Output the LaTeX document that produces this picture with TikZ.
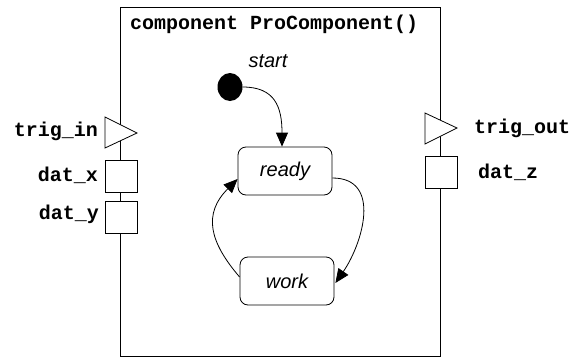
\documentclass[tikz,border=0pt]{standalone}
\usepackage{fontspec}
\setmainfont{Liberation Sans}
\setmonofont{Liberation Mono}
\usetikzlibrary{arrows.meta,calc,shapes.geometric}
\begin{document}
\begin{tikzpicture}[x=1pt,y=-1pt,
  lw/.style={line width=0.8pt},
  port/.style={lw, draw, fill=white, minimum size=32pt, inner sep=0pt},
  portlbl/.style={font=\ttfamily\bfseries\fontsize{20}{24}\selectfont, inner sep=0pt},
  statebox/.style={lw, draw, rounded corners=8pt, minimum width=94pt, minimum height=48pt, inner sep=0pt, font=\itshape\fontsize{20}{24}\selectfont},
  arr/.style={lw, -{Triangle[length=14pt,width=12pt]}}]
\useasboundingbox (0,0) rectangle (573,359);
% component frame
\node[lw, draw, anchor=north west, minimum width=320pt, minimum height=349pt, inner sep=0pt] (comp) at (120,7) {};
\node[portlbl, anchor=west] (title) at (130,24) {component ProComponent()};
% left ports
\draw[lw, fill=white] (105,117) -- (137,133) -- (105,148) -- cycle;
\coordinate (trigin) at (115,133);
\node[portlbl, anchor=east] (triginlbl) at (98,131) {trig\_in};
\node[port] (datx) at (121,176) {};
\node[portlbl, anchor=east] (datxlbl) at (98,175) {dat\_x};
\node[port] (daty) at (121,217) {};
\node[portlbl, anchor=east] (datylbl) at (99,214) {dat\_y};
% right ports
\draw[lw, fill=white] (425,113) -- (457,128) -- (425,144) -- cycle;
\coordinate (trigout) at (435,128);
\node[portlbl, anchor=west] (trigoutlbl) at (474,128) {trig\_out};
\node[port] (datz) at (441,172) {};
\node[portlbl, anchor=west] (datzlbl) at (478,172) {dat\_z};
% states
\node[inner sep=0pt, font=\itshape\fontsize{20}{24}\selectfont] (startlbl) at (268,61) {start};
\node[ellipse, fill=black, minimum width=25pt, minimum height=28pt, inner sep=0pt] (init) at (230,87) {};
\node[statebox] (ready) at (285,171) {ready};
\node[statebox] (work) at (287,281) {work};
% transitions
\draw[arr] (init.east) .. controls +(32,0) and +(0,-40) .. ($(ready.north)+(-3,0)$);
\draw[arr] ($(ready.east)+(0,7)$) .. controls +(50,0) and +(27,-39) .. ($(work.east)+(1,2)$);
\draw[arr] ($(work.west)+(0,-4)$) .. controls +(-30,-35) and +(-35,35) .. ($(ready.west)+(0,8)$);
\end{tikzpicture}
\end{document}
